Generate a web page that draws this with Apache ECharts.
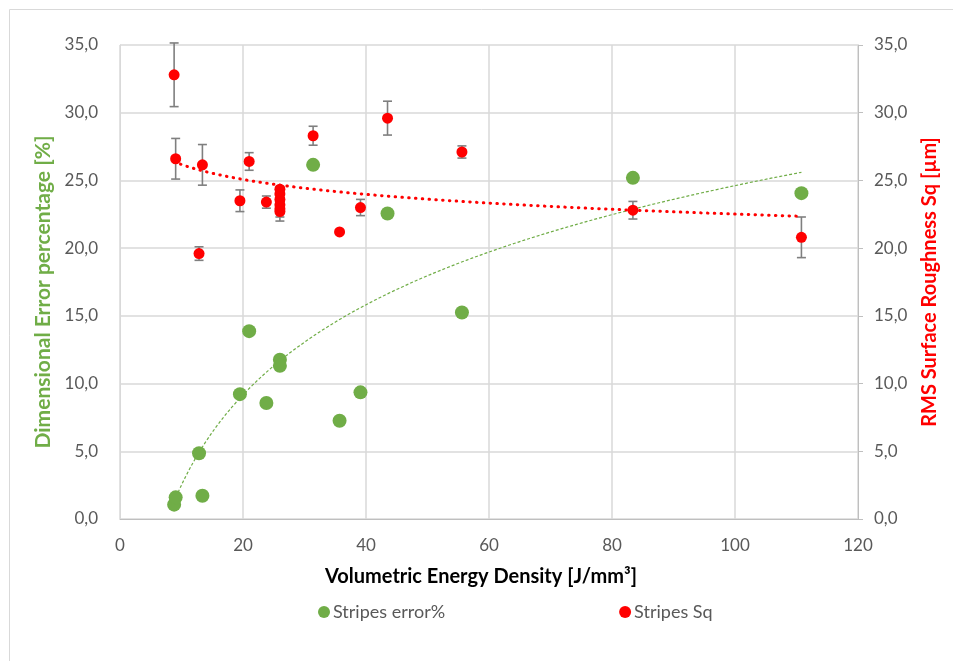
<!DOCTYPE html>
<html>
<head>
<meta charset="utf-8">
<script src="https://cdn.jsdelivr.net/npm/echarts@6/dist/echarts.min.js"></script>
<style>
html,body{margin:0;padding:0;background:#fff;}
#c{width:953px;height:661px;}
</style>
</head>
<body>
<div id="c"></div>
<script>
// Volumetric energy density [J/mm3]
const errX = [8.8, 9.05, 12.85, 13.4, 19.5, 21.0, 23.8, 26.0, 26.0, 31.4, 35.7, 39.1, 43.5, 55.6, 83.4, 110.8];
// Dimensional error percentage [%]
const errY = [1.06, 1.6, 4.85, 1.72, 9.22, 13.87, 8.56, 11.76, 11.31, 26.15, 7.25, 9.35, 22.56, 15.25, 25.19, 24.06];

const sqX = [8.8, 9.05, 12.85, 13.4, 19.5, 21.0, 23.8, 26.0, 26.0, 26.0, 26.0, 26.0, 26.0, 31.4, 35.7, 39.1, 43.5, 55.6, 83.4, 110.8];
// RMS surface roughness Sq [um]
const sqY = [32.8, 26.6, 19.6, 26.15, 23.5, 26.4, 23.4, 24.35, 24.0, 23.6, 23.2, 22.9, 22.7, 28.3, 21.2, 23.0, 29.6, 27.1, 22.8, 20.8];
const sqErr = [2.35, 1.5, 0.5, 1.5, 0.8, 0.65, 0.45, 0.2, 0.3, 0.3, 0.4, 0.6, 0.7, 0.7, 0.15, 0.6, 1.25, 0.45, 0.65, 1.5];

const xTicks = [0, 20, 40, 60, 80, 100, 120];
const yTicks = [0, 5, 10, 15, 20, 25, 30, 35];

const GREEN = '#70AD47', RED = '#FF0000', TXT = '#595959';
const FONT = 'Lato, "Open Sans", sans-serif';

// logarithmic least-squares trendline (as in the spreadsheet)
function logFit(xs, ys) {
  const n = xs.length;
  const L = xs.map(Math.log);
  const ml = L.reduce((a, b) => a + b, 0) / n;
  const my = ys.reduce((a, b) => a + b, 0) / n;
  let sxy = 0, sxx = 0;
  for (let i = 0; i < n; i++) { sxy += (L[i] - ml) * (ys[i] - my); sxx += (L[i] - ml) ** 2; }
  const a = sxy / sxx, b = my - a * ml;
  const lo = Math.min(...xs), hi = Math.max(...xs);
  const pts = [];
  const N = 120;
  for (let i = 0; i <= N; i++) {
    const x = lo + (hi - lo) * i / N;
    pts.push([x, a * Math.log(x) + b]);
  }
  return pts;
}

const errPts = errX.map((x, i) => [x, errY[i]]);
const sqPts = sqX.map((x, i) => [x, sqY[i]]);
const sqBars = sqX.map((x, i) => [x, sqY[i] - sqErr[i], sqY[i] + sqErr[i]]);

const fmt = v => v.toFixed(1).replace('.', ',');

const chart = echarts.init(document.getElementById('c'));
chart.setOption({
  animation: false,
  textStyle: { fontFamily: FONT },
  graphic: [{
    type: 'rect', shape: { x: 9.5, y: 9.5, width: 1000, height: 1000 },
    style: { fill: 'none', stroke: '#d9d9d9', lineWidth: 1 }, silent: true, z: -10
  }],
  grid: { left: 120, right: 95, top: 45, bottom: 142 },
  legend: {
    left: 313, top: 598, itemGap: 174, itemWidth: 12, itemHeight: 12,
    textStyle: { color: TXT, fontSize: 18, fontFamily: FONT, padding: [0, 0, 0, -2] },
    data: [{ name: 'Stripes error%', icon: 'circle' }, { name: 'Stripes Sq', icon: 'circle' }]
  },
  xAxis: {
    type: 'value', min: xTicks[0], max: xTicks[xTicks.length - 1], interval: xTicks[1] - xTicks[0],
    name: 'Volumetric Energy Density [J/mm³]', nameLocation: 'middle', nameGap: 48,
    nameTextStyle: { color: '#000', fontSize: 20, fontWeight: 'bold', fontFamily: FONT, padding: [0, 16, 0, 0] },
    axisLine: { show: true, lineStyle: { color: '#bfbfbf', width: 1 } },
    axisTick: { show: false },
    axisLabel: { color: TXT, fontSize: 17, margin: 18, fontFamily: FONT },
    splitLine: { show: true, lineStyle: { color: '#d9d9d9', width: 1.5 } }
  },
  yAxis: [{
    type: 'value', min: yTicks[0], max: yTicks[yTicks.length - 1], interval: yTicks[1] - yTicks[0],
    name: 'Dimensional Error percentage [%]', nameLocation: 'middle', nameGap: 66,
    nameTextStyle: { color: GREEN, fontSize: 21, fontWeight: 'bold', fontFamily: FONT, padding: [0, 20, 0, 0] },
    axisLine: { show: true, lineStyle: { color: '#d9d9d9' } },
    axisTick: { show: false },
    axisLabel: { color: TXT, fontSize: 17, margin: 22, formatter: fmt, fontFamily: FONT },
    splitLine: { show: true, lineStyle: { color: '#d9d9d9', width: 1.5 } }
  }, {
    type: 'value', min: yTicks[0], max: yTicks[yTicks.length - 1], interval: yTicks[1] - yTicks[0],
    position: 'right',
    name: 'RMS Surface Roughness Sq [µm]', nameLocation: 'middle', nameGap: 62,
    nameTextStyle: { color: RED, fontSize: 20, fontWeight: 'bold', fontFamily: FONT },
    axisLine: { show: true, lineStyle: { color: '#bfbfbf' } },
    axisTick: { show: true, length: 5, lineStyle: { color: '#bfbfbf' } },
    axisLabel: { color: TXT, fontSize: 17, margin: 16, formatter: fmt, fontFamily: FONT },
    splitLine: { show: false }
  }],
  series: [{
    name: 'trend error', type: 'line', yAxisIndex: 0, data: logFit(errX, errY),
    showSymbol: false, symbol: 'none', smooth: false, z: 1,
    lineStyle: { color: GREEN, width: 1.2, type: [3, 2] }
  }, {
    name: 'Stripes error%', type: 'scatter', yAxisIndex: 0, data: errPts,
    symbol: 'circle', symbolSize: 14, itemStyle: { color: GREEN, opacity: 1 }, z: 3
  }, {
    name: 'sq errbars', type: 'custom', yAxisIndex: 1, data: sqBars, z: 2,
    renderItem: function (params, api) {
      const x = api.value(0);
      const lo = api.coord([x, api.value(1)]);
      const hi = api.coord([x, api.value(2)]);
      const w = 4.5;
      const st = { stroke: '#7f7f7f', lineWidth: 1.6, fill: null };
      return {
        type: 'group', children: [
          { type: 'line', shape: { x1: lo[0], y1: lo[1], x2: hi[0], y2: hi[1] }, style: st },
          { type: 'line', shape: { x1: lo[0] - w, y1: lo[1], x2: lo[0] + w, y2: lo[1] }, style: st },
          { type: 'line', shape: { x1: hi[0] - w, y1: hi[1], x2: hi[0] + w, y2: hi[1] }, style: st }
        ]
      };
    }
  }, {
    name: 'trend sq', type: 'line', yAxisIndex: 1, data: logFit(sqX, sqY),
    showSymbol: false, symbol: 'none', z: 2,
    lineStyle: { color: RED, width: 3, type: [0.5, 6.3], cap: 'round' }
  }, {
    name: 'Stripes Sq', type: 'scatter', yAxisIndex: 1, data: sqPts,
    symbol: 'circle', symbolSize: 11, itemStyle: { color: RED, opacity: 1 }, z: 4
  }]
});
</script>
</body>
</html>
